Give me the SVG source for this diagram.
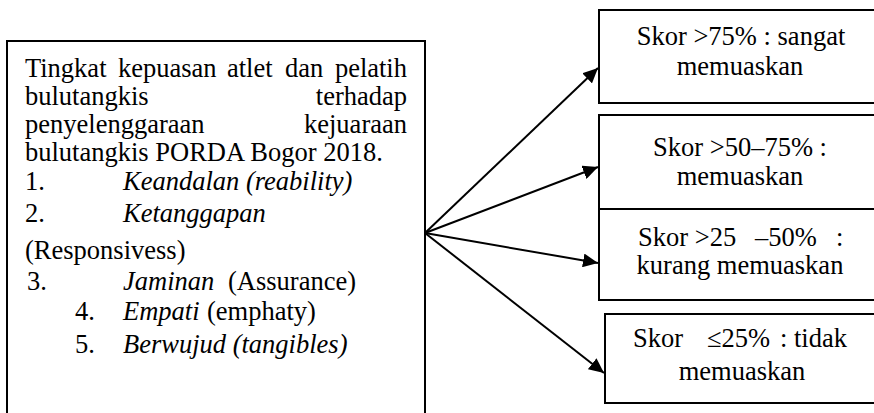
<svg xmlns="http://www.w3.org/2000/svg" width="874" height="413" viewBox="0 0 874 413">
  <style>
    .box { fill: #ffffff; stroke: #000000; stroke-width: 2; }
    .t { font-family: "Liberation Serif", "Times New Roman", "DejaVu Serif", serif; font-size: 26.5px; fill: #000000; }
    .c { text-anchor: middle; }
    .i { font-style: italic; }
    .e { text-anchor: end; }
    .conn { stroke: #000000; stroke-width: 2; fill: none; marker-end: url(#arrow); }
  </style>
  <defs>
    <marker id="arrow" markerUnits="userSpaceOnUse" markerWidth="16" markerHeight="14" refX="15" refY="7" orient="auto">
      <path d="M0,0 L15,7 L0,14 Z" fill="#000000"/>
    </marker>
  </defs>
  <rect x="0" y="0" width="874" height="413" fill="#ffffff"/>

  <g id="main">
    <rect class="box" x="7" y="41" width="418" height="390"/>
    <text class="t" y="77"><tspan x="25">Tingkat</tspan><tspan x="118">kepuasan</tspan><tspan x="227">atlet</tspan><tspan x="285">dan</tspan></text>
    <text class="t e" x="407" y="77">pelatih</text>
    <text class="t" x="25" y="105">bulutangkis</text>
    <text class="t e" x="407" y="105">terhadap</text>
    <text class="t" x="25" y="133">penyelenggaraan</text>
    <text class="t e" x="407" y="133">kejuaraan</text>
    <text class="t" x="25" y="161">bulutangkis PORDA Bogor 2018.</text>
    <text class="t" y="190"><tspan x="25">1.</tspan><tspan class="i" x="123">Keandalan (reability)</tspan></text>
    <text class="t" y="222"><tspan x="25">2.</tspan><tspan class="i" x="123">Ketanggapan</tspan></text>
    <text class="t" x="25" y="259">(Responsivess)</text>
    <text class="t" y="290"><tspan x="27">3.</tspan><tspan class="i" x="123">Jaminan</tspan><tspan x="228">(Assurance)</tspan></text>
    <text class="t" y="320"><tspan x="75">4.</tspan><tspan class="i" x="123">Empati</tspan><tspan x="207">(emphaty)</tspan></text>
    <text class="t" y="353"><tspan x="75">5.</tspan><tspan class="i" x="123">Berwujud (tangibles)</tspan></text>
  </g>

  <g id="score1">
    <rect class="box" x="599" y="10" width="290" height="93"/>
    <text class="t c" x="741" y="45">Skor &gt;75% : sangat</text>
    <text class="t c" x="740" y="75">memuaskan</text>
  </g>

  <g id="score2">
    <rect class="box" x="599" y="115" width="290" height="94"/>
    <text class="t c" x="740" y="156">Skor &gt;50–75% :</text>
    <text class="t c" x="740" y="185">memuaskan</text>
  </g>

  <g id="score3">
    <rect class="box" x="599" y="209" width="290" height="91"/>
    <text class="t" y="246"><tspan x="638">Skor &gt;25</tspan><tspan x="755">–50%</tspan><tspan x="836">:</tspan></text>
    <text class="t c" x="740" y="274">kurang memuaskan</text>
  </g>

  <g id="score4">
    <rect class="box" x="605" y="314" width="290" height="89"/>
    <text class="t" y="347"><tspan x="633">Skor</tspan><tspan x="707">≤25%</tspan><tspan x="780">: tidak</tspan></text>
    <text class="t c" x="742" y="380">memuaskan</text>
  </g>

  <g id="connectors">
    <line class="conn" x1="425" y1="233" x2="598" y2="68"/>
    <line class="conn" x1="425" y1="233" x2="598" y2="167"/>
    <line class="conn" x1="425" y1="233" x2="598" y2="263"/>
    <line class="conn" x1="425" y1="233" x2="604" y2="373"/>
  </g>
</svg>
